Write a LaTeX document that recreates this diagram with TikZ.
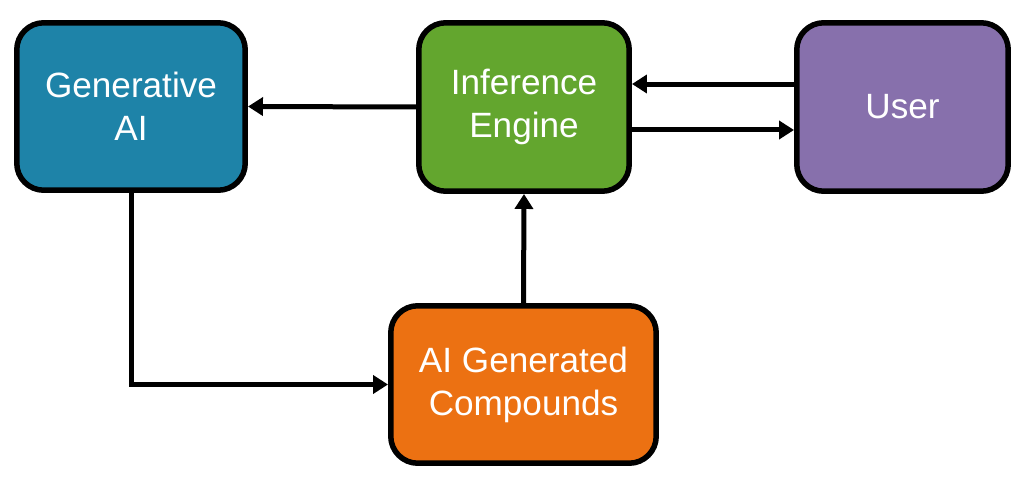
\documentclass[tikz,border=0pt]{standalone}
\usepackage{fontspec}
\setmainfont{Liberation Sans}
\usetikzlibrary{arrows.meta}

\definecolor{genblue}{HTML}{1E83A8}
\definecolor{infgreen}{HTML}{63A62E}
\definecolor{usrpurple}{HTML}{8770AC}
\definecolor{cmporange}{HTML}{EC7112}

\begin{document}
\begin{tikzpicture}[x=0.02cm, y=-0.02cm,
    box/.style={draw=black, line width=0.11cm, rounded corners=0.54cm,
        text=white, align=center, font=\fontsize{20}{24.5}\selectfont},
    arr/.style={line width=0.1cm, -{Triangle[length=0.3cm, width=0.36cm]}}]
    \useasboundingbox (0, 0) rectangle (1024, 486);

    \node[box, fill=genblue, minimum width=4.57cm, minimum height=3.35cm] (gen) at (131, 106.5) {Generative\\AI};
    \node[box, fill=infgreen, minimum width=4.21cm, minimum height=3.37cm] (inf) at (524, 107) {Inference\\Engine};
    \node[box, fill=usrpurple, minimum width=4.23cm, minimum height=3.37cm] (usr) at (902.5, 107) {User};
    \node[box, fill=cmporange, minimum width=5.31cm, minimum height=3.15cm] (cmp) at (523.5, 384.5) {AI Generated\\Compounds};

    \draw[arr] (inf.west) -- (gen.east);
    \draw[arr] ([yshift=0.46cm]usr.west) -- ([yshift=0.46cm]inf.east);
    \draw[arr] ([yshift=-0.46cm]inf.east) -- ([yshift=-0.46cm]usr.west);
    \draw[arr] (cmp.north) -- (inf.south);
    \draw[arr] (gen.south) |- (cmp.west);
\end{tikzpicture}
\end{document}
